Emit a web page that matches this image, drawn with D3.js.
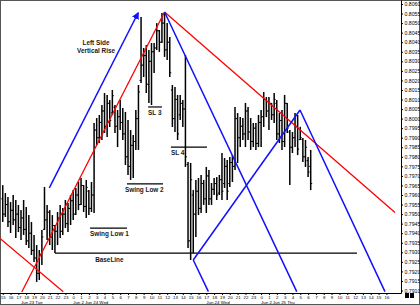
<!DOCTYPE html>
<html>
<head>
<meta charset="utf-8">
<script src="https://cdn.jsdelivr.net/npm/d3@7"></script>
<style>
  body { margin: 0; background: #fff; }
  svg { display: block; font-family: "Liberation Sans", Arial, sans-serif; }
</style>
</head>
<body>
<div id="chart"></div>
<script>
// 20 minute bars, Jun 23 - Jun 25 (2009)
var barTimes = [
  "23 15:00","23 15:20","23 15:40","23 16:00","23 16:20","23 16:40","23 17:00","23 17:20","23 17:40",
  "23 18:00","23 18:20","23 18:40","23 19:00","23 19:20","23 19:40","23 20:00","23 20:20","23 20:40",
  "23 21:00","23 21:20","23 21:40","23 22:00","23 22:20","23 22:40","23 23:00","23 23:20","23 23:40",
  "24 00:00","24 00:20","24 00:40","24 01:00","24 01:20","24 01:40","24 02:00","24 02:20","24 02:40",
  "24 03:00","24 03:20","24 03:40","24 04:00","24 04:20","24 04:40","24 05:00","24 05:20","24 05:40",
  "24 06:00","24 06:20","24 06:40","24 07:00","24 07:20","24 07:40","24 08:00","24 08:20","24 08:40",
  "24 09:00","24 09:20","24 09:40","24 10:00","24 10:20","24 10:40","24 11:00","24 11:20","24 11:40",
  "24 12:00","24 12:20","24 12:40","24 13:00","24 13:20","24 13:40","24 14:00","24 14:20","24 14:40",
  "24 15:00","24 15:20","24 15:40","24 16:00","24 16:20","24 16:40","24 17:00","24 17:20","24 17:40",
  "24 18:00","24 18:20","24 18:40","24 19:00","24 19:20","24 19:40","24 20:00","24 20:20","24 20:40",
  "24 21:00","24 21:20","24 21:40","24 22:00","24 22:20","24 22:40","24 23:00","24 23:20","24 23:40",
  "25 00:00","25 00:20","25 00:40","25 01:00","25 01:20","25 01:40","25 02:00","25 02:20","25 02:40",
  "25 03:00","25 03:20","25 03:40","25 04:00","25 04:20","25 04:40","25 05:00","25 05:20","25 05:40",
  "25 06:00","25 06:20"
];
var opens = [
  0.7958,0.7950,0.7955,0.7946,0.7952,0.7947,0.7950,0.7943,0.7948,0.7942,0.7936,0.7940,0.7931,0.7927,0.7919,
  0.7929,0.7942,0.7947,0.7951,0.7938,0.7944,0.7941,0.7948,0.7941,0.7950,0.7945,0.7953,0.7957,0.7950,0.7960,
  0.7955,0.7965,0.7954,0.7962,0.7953,0.7960,0.7994,0.7990,0.7998,0.8004,0.7996,0.8008,0.8003,0.8006,0.7996,
  0.8001,0.7998,0.7992,0.7980,0.7975,0.7986,0.7988,0.8000,0.8020,0.8028,0.8033,0.8018,0.8030,0.8035,0.8037,
  0.8046,0.8040,0.8050,0.8036,0.8040,0.8015,0.8000,0.8010,0.8002,0.8008,0.8005,0.7976,0.7936,0.7960,0.7950,
  0.7962,0.7953,0.7966,0.7958,0.7970,0.7958,0.7963,0.7966,0.7961,0.7968,0.7966,0.7975,0.7966,0.7977,0.7975,
  0.8000,0.7990,0.7996,0.7992,0.8004,0.7993,0.7988,0.7995,0.7987,0.7998,0.8001,0.8010,0.8004,0.8008,0.8002,
  0.8008,0.7992,0.7999,0.7988,0.8008,0.7993,0.7985,0.7990,0.7996,0.7989,0.7989,0.7980,0.7978,0.7975
];
var highs = [
  0.79652,0.79610,0.79589,0.79563,0.79600,0.79574,0.79548,0.79521,0.79574,0.79537,0.79495,0.79459,0.79391,0.79338,0.79312,
  0.79417,0.79642,0.79548,0.79521,0.79495,0.79443,0.79511,0.79548,0.79532,0.79574,0.79558,0.79600,0.79626,0.79637,0.79668,
  0.79689,0.79652,0.79679,0.79626,0.79668,0.79977,0.80003,0.80019,0.80071,0.80134,0.80124,0.80097,0.80150,0.80071,0.80045,
  0.80097,0.80056,0.80035,0.79993,0.79940,0.79914,0.80045,0.80176,0.80532,0.80370,0.80385,0.80359,0.80396,0.80396,0.80500,
  0.80464,0.80553,0.80558,0.80500,0.80427,0.80176,0.80165,0.80124,0.80124,0.80097,0.80333,0.79773,0.79768,0.79626,0.79679,
  0.79689,0.79705,0.79679,0.79747,0.79731,0.79663,0.79689,0.79694,0.79705,0.79820,0.79794,0.79783,0.79799,0.79809,0.80061,
  0.80029,0.80008,0.80003,0.80082,0.80061,0.80003,0.79977,0.79977,0.80019,0.80045,0.80139,0.80113,0.80113,0.80082,0.80134,
  0.80097,0.80029,0.80045,0.80124,0.80082,0.79940,0.79930,0.80029,0.80019,0.79957,0.79898,0.79888,0.79799,0.79836
];
var lows = [
  0.79459,0.79485,0.79432,0.79401,0.79443,0.79375,0.79406,0.79364,0.79391,0.79338,0.79322,0.79286,0.79249,0.79145,0.79155,
  0.79234,0.79417,0.79364,0.79338,0.79312,0.79296,0.79338,0.79375,0.79391,0.79427,0.79406,0.79443,0.79469,0.79495,0.79521,
  0.79548,0.79511,0.79480,0.79495,0.79511,0.79506,0.79862,0.79872,0.79888,0.79925,0.79904,0.79956,0.80019,0.79925,0.79851,
  0.79940,0.79888,0.79757,0.79705,0.79679,0.79689,0.79836,0.79836,0.80186,0.80218,0.80134,0.80082,0.80071,0.80239,0.80359,
  0.80349,0.80396,0.80323,0.80307,0.80218,0.79956,0.79930,0.79888,0.79993,0.79956,0.79747,0.79322,0.79260,0.79296,0.79380,
  0.79495,0.79506,0.79548,0.79506,0.79548,0.79548,0.79600,0.79574,0.79600,0.79574,0.79637,0.79574,0.79642,0.79668,0.79731,
  0.79768,0.79851,0.79888,0.79851,0.79888,0.79836,0.79851,0.79836,0.79851,0.79851,0.79956,0.80008,0.79940,0.79993,0.79977,
  0.79888,0.79872,0.79836,0.79851,0.79925,0.79652,0.79820,0.79851,0.79809,0.79888,0.79773,0.79747,0.79694,0.79626
];
var closes = [
  0.7950,0.7955,0.7946,0.7952,0.7947,0.7950,0.7943,0.7948,0.7942,0.7936,0.7940,0.7931,0.7927,0.7919,0.7929,
  0.7938,0.7947,0.7951,0.7938,0.7944,0.7941,0.7948,0.7941,0.7950,0.7945,0.7953,0.7957,0.7950,0.7960,0.7955,
  0.7965,0.7954,0.7964,0.7953,0.7960,0.7994,0.7990,0.7998,0.8004,0.7996,0.8008,0.7999,0.8012,0.7996,0.8001,
  0.7998,0.7992,0.7980,0.7975,0.7986,0.7988,0.8000,0.8014,0.8028,0.8033,0.8018,0.8030,0.8035,0.8037,0.8046,
  0.8040,0.8050,0.8036,0.8040,0.8024,0.8000,0.8010,0.7992,0.8008,0.8005,0.7980,0.7936,0.7968,0.7950,0.7962,
  0.7953,0.7966,0.7958,0.7970,0.7958,0.7963,0.7966,0.7960,0.7968,0.7962,0.7975,0.7962,0.7977,0.7975,0.8000,
  0.7990,0.7996,0.7992,0.8004,0.7993,0.7988,0.7995,0.7987,0.7998,0.8001,0.8010,0.8004,0.8008,0.8002,0.8010,
  0.7992,0.7999,0.7988,0.8008,0.7995,0.7985,0.7990,0.7996,0.7984,0.7990,0.7980,0.7985,0.7972,0.7966
];

// axis labels
var yTicks = [0.7910,0.7915,0.7920,0.7925,0.7930,0.7935,0.7940,0.7945,0.7950,0.7955,0.7960,0.7965,0.7970,0.7975,0.7980,0.7985,
              0.7990,0.7995,0.8000,0.8005,0.8010,0.8015,0.8020,0.8025,0.8030,0.8035,0.8040,0.8045,0.8050,0.8055,0.8060];
var hourTickSpan = ["23 15:00", "25 16:00"];
var dayLabels = ["Jun 23 Tue", "Jun 2", "Jun 24 Wed", "Jun 24 Wed", "Jun 2", "Jun 25 Thu"];
var dayLabelTimes = ["23 17:20", "24 00:00", "24 01:30", "24 17:00", "25 00:00", "25 01:30"];

// drawn studies: [time1, price1, time2, price2]
var redLines = [
  ["23 17:26", 0.79092, "24 11:40", 0.80558],
  ["24 11:40", 0.80558, "25 17:06", 0.79509],
  ["23 14:39", 0.79373, "23 22:44", 0.79094]
];
var blueLines = [
  ["24 11:40", 0.80558, "25 04:33", 0.79094],
  ["24 15:20", 0.79260, "25 04:58", 0.80045],
  ["25 04:58", 0.80045, "25 15:49", 0.79094],
  ["24 15:20", 0.79260, "24 17:16", 0.79094]
];
var riseArrow = ["23 20:57", 0.79637, "24 08:17", 0.80553];
var baseLine = ["23 21:40", 0.79296, "25 12:15", 0.79296];

var swingNames = ["Swing Low 1", "Swing Low 2", "SL 3", "SL 4"];
var swingLevels = [0.79427, 0.79658, 0.80061, 0.79851];
var swingFrom = ["24 02:09", "24 06:52", "24 09:34", "24 12:29"];
var swingTo = ["24 06:52", "24 11:28", "24 11:20", "24 17:05"];

var parseTime = d3.utcParse("%Y-%m-%d %H:%M");
function T(s) { return parseTime("2009-06-" + s); }

var width = 420, height = 305;
var plotW = 401, plotH = 293;

var bars = barTimes.map(function(t, i) {
  return {time: T(t), open: opens[i], high: highs[i], low: lows[i], close: closes[i]};
});

var svg = d3.select("#chart")
  .append("svg")
    .attr("width", width)
    .attr("height", height);

svg.append("rect")
  .attr("x", 0.5).attr("y", 0.5)
  .attr("width", width - 1).attr("height", height - 1)
  .attr("fill", "#fff")
  .attr("stroke", "#555");

var x = d3.scaleUtc()
  .domain([T("23 14:39"), T("25 17:52")])
  .range([0, plotW]);

var y = d3.scaleLinear()
  .domain([0.79087, 0.80621])
  .range([plotH, 0]);

svg.append("defs").append("clipPath")
  .attr("id", "plotclip")
  .append("rect")
    .attr("x", 0).attr("y", 0)
    .attr("width", plotW).attr("height", plotH);

svg.select("defs").append("marker")
  .attr("id", "arrow")
  .attr("viewBox", "0 0 10 10")
  .attr("refX", 8).attr("refY", 5)
  .attr("markerWidth", 5).attr("markerHeight", 5)
  .attr("orient", "auto")
  .append("path")
    .attr("d", "M0,0L10,5L0,10z")
    .attr("fill", "#1010ff");

// Y axis (right)
var yAxis = svg.append("g")
  .attr("transform", "translate(" + plotW + ",0)")
  .call(d3.axisRight(y).tickValues(yTicks).tickSize(2).tickSizeOuter(0).tickFormat(d3.format(".4f")));
yAxis.select(".domain").attr("stroke", "#000");
yAxis.selectAll("text")
  .attr("x", 3.5)
  .style("font-size", "5.2px")
  .attr("fill", "#000");

// X axis (hours)
var xAxis = svg.append("g")
  .attr("transform", "translate(0," + plotH + ")")
  .call(d3.axisBottom(x)
    .tickValues(d3.utcHour.range(T(hourTickSpan[0]), d3.utcMinute.offset(T(hourTickSpan[1]), 1)))
    .tickSize(2).tickSizeOuter(0)
    .tickFormat(d3.utcFormat("%-H")));
xAxis.selectAll("text")
  .attr("y", 2.4)
  .style("font-size", "4.4px")
  .attr("fill", "#000");

// day labels
svg.selectAll("daylabel")
  .data(dayLabels)
  .enter()
  .append("text")
    .attr("x", function(d, i) { return x(T(dayLabelTimes[i])); })
    .attr("y", 303.6)
    .style("font-size", "4.4px")
    .text(function(d) { return d; });

var plot = svg.append("g").attr("clip-path", "url(#plotclip)");

// Bars
plot.selectAll("hl")
  .data(bars)
  .enter()
  .append("line")
    .attr("x1", function(d) { return x(d.time); })
    .attr("x2", function(d) { return x(d.time); })
    .attr("y1", function(d) { return y(d.high); })
    .attr("y2", function(d) { return y(d.low); })
    .attr("stroke", "#000")
    .attr("stroke-width", 1.5);

plot.selectAll("op")
  .data(bars)
  .enter()
  .append("line")
    .attr("x1", function(d) { return x(d.time) - 1.5; })
    .attr("x2", function(d) { return x(d.time); })
    .attr("y1", function(d) { return y(d.open); })
    .attr("y2", function(d) { return y(d.open); })
    .attr("stroke", "#000")
    .attr("stroke-width", 1);

plot.selectAll("cl")
  .data(bars)
  .enter()
  .append("line")
    .attr("x1", function(d) { return x(d.time); })
    .attr("x2", function(d) { return x(d.time) + 1.5; })
    .attr("y1", function(d) { return y(d.close); })
    .attr("y2", function(d) { return y(d.close); })
    .attr("stroke", "#000")
    .attr("stroke-width", 1);

// BaseLine
plot.append("line")
  .attr("x1", x(T(baseLine[0]))).attr("y1", y(baseLine[1]))
  .attr("x2", x(T(baseLine[2]))).attr("y2", y(baseLine[3]))
  .attr("stroke", "#000")
  .attr("stroke-width", 1.2);

// swing low markers
plot.selectAll("swing")
  .data(swingNames)
  .enter()
  .append("line")
    .attr("x1", function(d, i) { return x(T(swingFrom[i])); })
    .attr("x2", function(d, i) { return x(T(swingTo[i])); })
    .attr("y1", function(d, i) { return y(swingLevels[i]); })
    .attr("y2", function(d, i) { return y(swingLevels[i]); })
    .attr("stroke", "#000")
    .attr("stroke-width", 1.2);

// Red lines
plot.selectAll("redline")
  .data(redLines)
  .enter()
  .append("line")
    .attr("x1", function(d) { return x(T(d[0])); })
    .attr("y1", function(d) { return y(d[1]); })
    .attr("x2", function(d) { return x(T(d[2])); })
    .attr("y2", function(d) { return y(d[3]); })
    .attr("stroke", "#ff0000")
    .attr("stroke-width", 1.3);

// Blue lines
plot.selectAll("blueline")
  .data(blueLines)
  .enter()
  .append("line")
    .attr("x1", function(d) { return x(T(d[0])); })
    .attr("y1", function(d) { return y(d[1]); })
    .attr("x2", function(d) { return x(T(d[2])); })
    .attr("y2", function(d) { return y(d[3]); })
    .attr("stroke", "#1010ff")
    .attr("stroke-width", 1.5);

svg.append("line")
  .attr("x1", x(T(riseArrow[0]))).attr("y1", y(riseArrow[1]))
  .attr("x2", x(T(riseArrow[2]))).attr("y2", y(riseArrow[3]))
  .attr("stroke", "#1010ff")
  .attr("stroke-width", 1.5)
  .attr("marker-end", "url(#arrow)");

// Annotations
var note = svg.append("g")
  .style("font-size", "6.4px")
  .style("font-weight", "bold")
  .attr("fill", "#1a1a1a");

note.selectAll("swingtext")
  .data(swingNames)
  .enter()
  .append("text")
    .attr("x", function(d, i) { return x(T(swingFrom[i])) - (i == 1 ? 2 : 0); })
    .attr("y", function(d, i) { return y(swingLevels[i]) + 8; })
    .text(function(d) { return d; });

note.append("text")
  .attr("x", x(T("24 02:48")))
  .attr("y", y(baseLine[1]) + 8.5)
  .text("BaseLine");

note.append("text")
  .attr("x", x(T("24 02:55")))
  .attr("y", y(0.80385))
  .attr("text-anchor", "middle")
  .text("Left Side");
note.append("text")
  .attr("x", x(T("24 02:55")))
  .attr("y", y(0.80343))
  .attr("text-anchor", "middle")
  .text("Vertical Rise");

// scroll buttons in the corner
svg.append("rect").attr("x", 405).attr("y", 293).attr("width", 4).attr("height", 5).attr("fill", "#000");
svg.append("rect").attr("x", 410).attr("y", 293).attr("width", 4).attr("height", 5).attr("fill", "#000");
</script>
</body>
</html>
